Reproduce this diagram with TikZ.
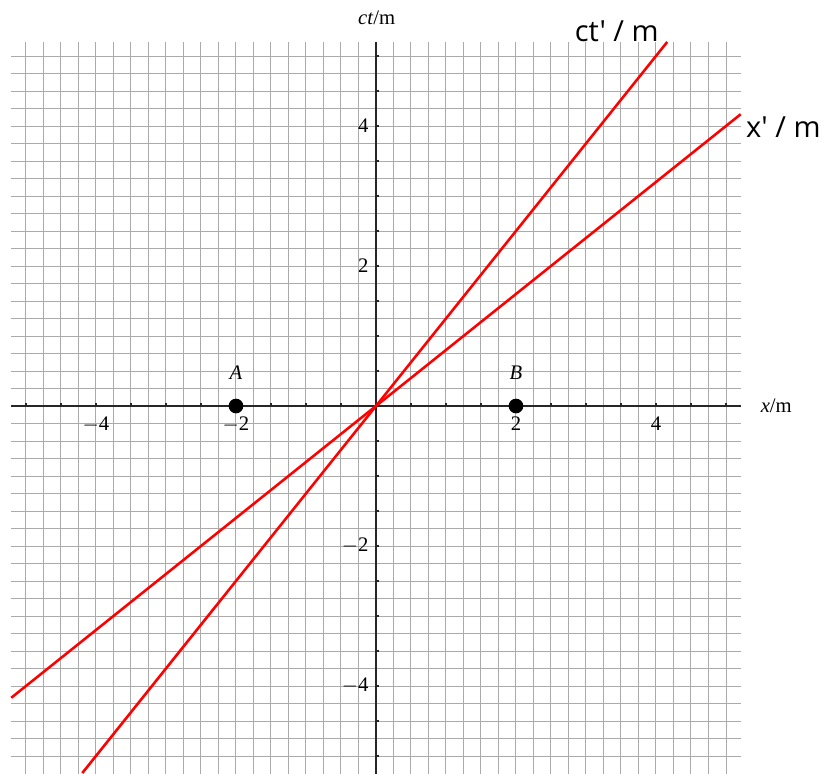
\documentclass[tikz,border=0pt]{standalone}
\usepackage{fontspec}
\setmainfont{Liberation Serif}
\newfontfamily\labelsans[Ligatures=TeXOff]{Open Sans}
\begin{document}
\begin{tikzpicture}[x=1cm,y=1cm,
  gridline/.style={draw=black!33, line width=0.4pt},
  axisline/.style={draw=black!85, line width=0.5pt},
  tickmark/.style={draw=black!85, line width=0.45pt},
  worldline/.style={draw=red, line width=1.05pt},
  ticklabel/.style={font=\fontsize{8.4}{10}\selectfont, inner sep=0pt},
  axislabel/.style={font=\fontsize{8.4}{10}\selectfont, inner sep=0pt},
  primelabel/.style={font=\labelsans\fontsize{11.8}{14}\selectfont, inner sep=0pt},
  eventdot/.style={circle, fill=black, inner sep=0pt, minimum size=0.21cm},
  eventlabel/.style={font=\fontsize{8.4}{10}\selectfont\itshape, inner sep=0pt},
]
\useasboundingbox (-5.371,-5.243) rectangle (6.4,5.8);
% grid
\foreach \i in {-20,...,20}{
  \draw[gridline] (\i*0.25,-5.3) -- (\i*0.25,5.2);
  \draw[gridline] (-5.21,\i*0.25) -- (5.21,\i*0.25);
}
% axes
\coordinate (xl) at (-5.21,0);
\coordinate (xr) at (5.21,0);
\coordinate (tb) at (0,-5.3);
\coordinate (tt) at (0,5.2);
\draw[axisline] (xl) -- (xr);
\draw[axisline] (tb) -- (tt);
% ticks
\foreach \i in {-10,...,10}{
  \draw[tickmark] (\i*0.5,0) -- (\i*0.5,0.045);
  \draw[tickmark] (0,\i*0.5) -- (0.045,\i*0.5);
}
% tick labels
\foreach \v/\s in {-4/$-$4,-2/$-$2,2/2,4/4}{
  \node[ticklabel, anchor=north] (xt\v) at (\v,-0.15) {\s};
  \node[ticklabel, anchor=east] (yt\v) at (-0.1,\v) {\s};
}
% axis labels
\node[axislabel] (ctlab) at (0.01,5.54) {\textit{ct}/m};
\node[axislabel, anchor=west] (xlab) at (5.49,0.0) {\textit{x}/m};
% moving frame axes
\coordinate (ctb) at (-4.195,-5.243);
\coordinate (ctt) at (4.16,5.2);
\coordinate (xpb) at (-5.21,-4.168);
\coordinate (xpt) at (5.21,4.168);
\draw[worldline] (ctb) -- (ctt);
\draw[worldline] (xpb) -- (xpt);
\node[primelabel] (ctp) at (3.44,5.35) {ct' / m};
\node[primelabel] (xp) at (5.82,3.98) {x' / m};
% events
\node[eventdot] (A) at (-2,0) {};
\node[eventdot] (B) at (2,0) {};
\node[eventlabel] (Alab) at (-2,0.47) {A};
\node[eventlabel] (Blab) at (2,0.47) {B};
\end{tikzpicture}
\end{document}
